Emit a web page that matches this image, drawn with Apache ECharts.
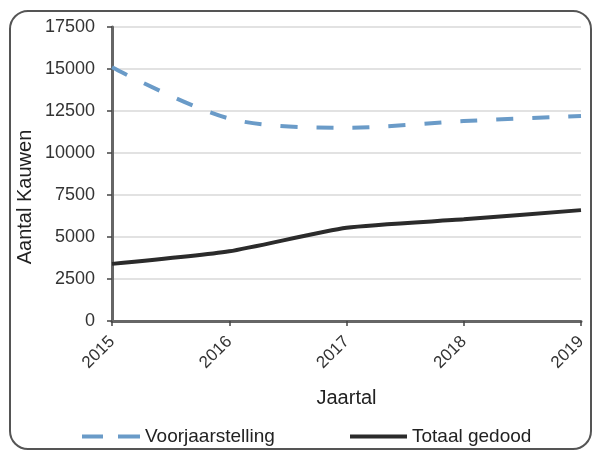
<!DOCTYPE html>
<html>
<head>
<meta charset="utf-8">
<script src="https://cdn.jsdelivr.net/npm/echarts@6/dist/echarts.min.js"></script>
<style>
  html, body { margin: 0; padding: 0; background: #fff; }
  #chart { width: 596px; height: 450px; }
</style>
</head>
<body>
<div id="chart"></div>
<script>
// jaren en waarden
var years = ['2015', '2016', '2017', '2018', '2019']
var voorjaarstelling = [15100, 12050, 11500, 11900, 12200]
var totaalGedood = [3400, 4150, 5550, 6050, 6600]

var chart = echarts.init(document.getElementById('chart'))
var font = 'Liberation Sans, Arial, sans-serif'
var blue = '#6a9bc8'
var dark = '#2b2b2b'

chart.setOption({
    animation: false,
    textStyle: { fontFamily: font },
    graphic: [
        // afgeronde rand rond de hele grafiek
        {
            type: 'rect',
            shape: { x: 10, y: 11, width: 581, height: 438, r: 18 },
            style: { fill: 'none', stroke: '#555', lineWidth: 2 },
            silent: true
        },
        // titel van de y-as, iets lager dan het midden zoals in het origineel
        {
            type: 'text',
            x: 25, y: 197,
            rotation: Math.PI / 2,
            style: {
                text: 'Aantal Kauwen',
                fontSize: 20, fill: '#222', fontFamily: font,
                align: 'center', verticalAlign: 'middle'
            },
            silent: true
        }
    ],
    grid: { left: 112, right: 15, top: 27, bottom: 129 },
    legend: [
        {
            data: [{ name: 'Voorjaarstelling', icon: 'path://M0,0h21v4h-21z M36,0h22v4h-22z' }],
            left: 82, top: 427, padding: 0,
            itemWidth: 58, itemHeight: 4,
            itemStyle: { color: blue },
            textStyle: { fontSize: 19, color: '#222', fontFamily: font }
        },
        {
            data: [{ name: 'Totaal gedood', icon: 'rect' }],
            left: 350, top: 427, padding: 0,
            itemWidth: 57, itemHeight: 4,
            itemStyle: { color: dark },
            textStyle: { fontSize: 19, color: '#222', fontFamily: font }
        }
    ],
    xAxis: {
        type: 'category',
        data: years,
        boundaryGap: false,
        name: 'Jaartal',
        nameLocation: 'middle',
        nameGap: 67,
        nameTextStyle: { fontSize: 20, color: '#222' },
        axisLine: { lineStyle: { color: '#666', width: 3 } },
        axisTick: { show: true, length: 5, lineStyle: { color: '#444', width: 1.5 } },
        axisLabel: { rotate: 45, fontSize: 17, color: '#333', margin: 18 },
        splitLine: { show: false }
    },
    yAxis: {
        type: 'value',
        min: 0, max: 17500, interval: 2500,
        axisLine: { show: true, lineStyle: { color: '#666', width: 3 } },
        axisTick: { show: true, length: 5, lineStyle: { color: '#444', width: 1.5 } },
        axisLabel: { fontSize: 18, color: '#333', margin: 17, formatter: function (v) { return String(v) } },
        splitLine: { lineStyle: { color: '#d8d8d8', width: 1.5 } }
    },
    series: [
        {
            name: 'Voorjaarstelling',
            type: 'line',
            data: voorjaarstelling,
            smooth: 0.3,
            symbol: 'none',
            itemStyle: { color: blue },
            lineStyle: { color: blue, width: 4, type: [17, 19] }
        },
        {
            name: 'Totaal gedood',
            type: 'line',
            data: totaalGedood,
            smooth: 0.2,
            symbol: 'none',
            itemStyle: { color: dark },
            lineStyle: { color: dark, width: 4 }
        }
    ]
})
</script>
</body>
</html>
